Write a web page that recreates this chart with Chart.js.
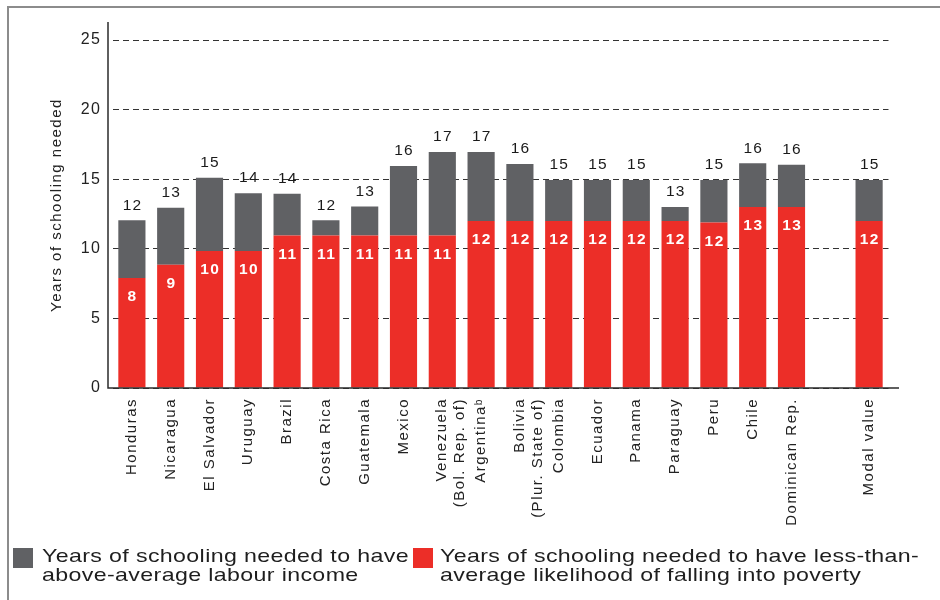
<!DOCTYPE html>
<html>
<head>
<meta charset="utf-8">
<script src="https://cdn.jsdelivr.net/npm/chart.js@4.4.1/dist/chart.umd.min.js"></script>
<style>
  body { margin: 0; background: #fff; }
  #wrap { position: relative; width: 940px; height: 600px; overflow: hidden; background: #fff; }
  #chart_box { position: absolute; left: 0; top: 0; width: 940px; height: 600px; }
  #frame { position: absolute; left: 7px; top: 6px; width: 940px; height: 600px;
           border-left: 2px solid #8c8c8c; border-top: 2px solid #8c8c8c; pointer-events: none; }
  .swatch { position: absolute; top: 548px; width: 20px; height: 20px; }
  .legend_text { position: absolute; top: 546px; font: 19px/19px "Liberation Sans", Arial, sans-serif;
                 letter-spacing: 0.3px; color: #1e1e1e; white-space: nowrap;
                 transform: scaleX(1.22); transform-origin: left top; }
</style>
</head>
<body>
<div id="wrap">
  <div id="chart_box"><canvas id="schooling"></canvas></div>
  <div id="frame"></div>
  <div class="swatch" style="left:13px;background:#606164"></div>
  <div class="legend_text" style="left:42px">Years of schooling needed to have<br>above-average labour income</div>
  <div class="swatch" style="left:413px;background:#ec2e28"></div>
  <div class="legend_text" style="left:440px">Years of schooling needed to have less-than-<br>average likelihood of falling into poverty</div>
</div>
<script>
const FONT = '"Liberation Sans", Arial, sans-serif';
const RED = "#ec2e28";
const GREY = "#606164";

// categories (empty slot before the modal value)
const countries = [
  "Honduras", "Nicaragua", "El Salvador", "Uruguay", "Brazil", "Costa Rica",
  "Guatemala", "Mexico", ["Venezuela", "(Bol. Rep. of)"], "Argentina\u1D47",
  ["Bolivia", "(Plur. State of)"], "Colombia", "Ecuador", "Panama", "Paraguay",
  "Peru", "Chile", "Dominican Rep.", "", "Modal value"
];

// years needed for less-than-average likelihood of falling into poverty
const povertyYears = [
  7.9, 8.85, 9.85, 9.85, 10.95, 10.95, 10.95, 10.95, 10.95, 12,
  12, 12, 12, 12, 12, 11.9, 13, 13, null, 12
];

// years needed for above-average labour income (top of each bar)
const incomeYears = [
  12.05, 12.95, 15.1, 14.0, 13.95, 12.05, 13.05, 15.95, 16.95, 16.95,
  16.1, 14.95, 14.95, 14.95, 13.0, 14.95, 16.15, 16.05, null, 14.95
];

const yTicks = [0, 5, 10, 15, 20, 25];

const spacing = {
  id: "spacing",
  beforeLayout(chart) { chart.ctx.letterSpacing = "1.5px"; },
  beforeDraw(chart) { chart.ctx.letterSpacing = "1.5px"; }
};

const axisLines = {
  id: "axisLines",
  afterDatasetsDraw(chart) {
    const { ctx, chartArea } = chart;
    const x0 = chartArea.left - 4.5;
    ctx.save();
    ctx.setLineDash([]);
    ctx.strokeStyle = "#2b2b2b";
    ctx.lineWidth = 1.5;
    ctx.beginPath();
    ctx.moveTo(x0, chartArea.top);
    ctx.lineTo(x0, chartArea.bottom);
    ctx.lineTo(chartArea.right + 10.5, chartArea.bottom);
    ctx.stroke();
    ctx.restore();
  }
};

const valueLabels = {
  id: "valueLabels",
  afterDatasetsDraw(chart) {
    const ctx = chart.ctx;
    const red = chart.getDatasetMeta(0);
    const grey = chart.getDatasetMeta(1);
    ctx.save();
    ctx.textAlign = "center";
    ctx.textBaseline = "middle";
    grey.data.forEach(function (bar, i) {
      if (incomeYears[i] == null) return;
      ctx.font = "15.5px " + FONT;
      ctx.letterSpacing = "1.2px";
      ctx.fillStyle = "#1a1a1a";
      ctx.fillText(String(Math.round(incomeYears[i])), bar.x + 0.6, bar.y - 15);

      const r = red.data[i];
      ctx.font = "bold 15.5px " + FONT;
      ctx.letterSpacing = "1.5px";
      ctx.fillStyle = "#ffffff";
      ctx.fillText(String(Math.round(povertyYears[i])), r.x + 0.75, r.y + 19);
    });
    ctx.restore();
  }
};

function init() {
  const greyPart = incomeYears.map(function (v, i) {
    return v == null ? null : v - povertyYears[i];
  });

  new Chart(document.getElementById("schooling"), {
    type: "bar",
    data: {
      labels: countries,
      datasets: [
        { label: "poverty", data: povertyYears, backgroundColor: RED, borderWidth: 0 },
        { label: "income", data: greyPart, backgroundColor: GREY, borderWidth: 0 }
      ]
    },
    options: {
      responsive: true,
      maintainAspectRatio: false,
      animation: false,
      datasets: { bar: { barPercentage: 0.7, categoryPercentage: 1.0 } },
      layout: { padding: { left: 44, right: 51.5, top: 22, bottom: 0 } },
      plugins: { legend: { display: false }, tooltip: { enabled: false } },
      scales: {
        x: {
          stacked: true,
          afterFit: function (scale) { scale.height = 212; },
          grid: { display: false, drawTicks: false },
          border: { display: false },
          ticks: {
            autoSkip: false, minRotation: 90, maxRotation: 90, padding: 10,
            color: "#222", font: { size: 15, family: FONT }
          }
        },
        y: {
          stacked: true,
          min: 0,
          max: 26.3,
          afterBuildTicks: function (scale) {
            scale.ticks = yTicks.map(function (v) { return { value: v }; });
          },
          afterFit: function (scale) { scale.width = 68.5; },
          grid: { color: "#333", lineWidth: 1, drawTicks: false },
          border: { display: false, dash: [6, 4] },
          ticks: { padding: 11, color: "#222", font: { size: 16, family: FONT } },
          title: {
            display: true, text: "Years of schooling needed", color: "#222",
            font: { size: 15, family: FONT }, padding: { top: 4, bottom: 4 }
          }
        }
      }
    },
    plugins: [spacing, axisLines, valueLabels]
  });
}

window.onload = init;
</script>
</body>
</html>
